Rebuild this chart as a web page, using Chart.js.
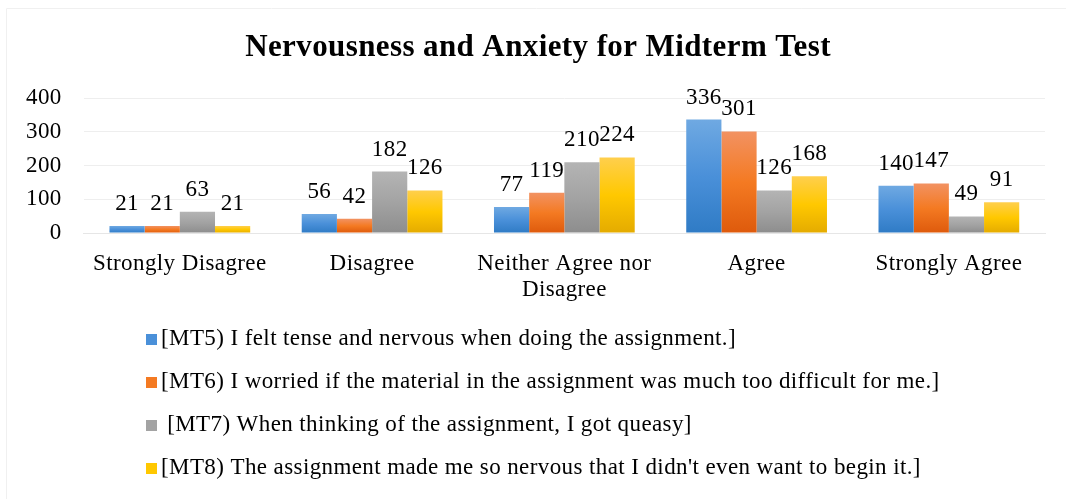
<!DOCTYPE html>
<html>
<head>
<meta charset="utf-8">
<script src="https://cdn.jsdelivr.net/npm/chart.js@4"></script>
<style>
    html, body { margin: 0; padding: 0; background: #fff; }
    #wrap { width: 1069px; height: 500px; position: relative; }
</style>
</head>
<body>
<div id="wrap"><canvas id="grafico"></canvas></div>
<script>
// Dados
const titulo = 'Nervousness and Anxiety for Midterm Test';
const categorias = ['Strongly Disagree', 'Disagree', ['Neither Agree nor', 'Disagree'], 'Agree', 'Strongly Agree'];
const rotulos = [
    '[MT5) I felt tense and nervous when doing the assignment.]',
    '[MT6) I worried if the material in the assignment was much too difficult for me.]',
    ' [MT7) When thinking of the assignment, I got queasy]',
    "[MT8) The assignment made me so nervous that I didn't even want to begin it.]"
];
const mt5 = [21, 56, 77, 336, 140];
const mt6 = [21, 42, 119, 301, 147];
const mt7 = [63, 182, 210, 126, 49];
const mt8 = [21, 126, 224, 168, 91];
const ticksY = [0, 100, 200, 300, 400];

// cores (topo, meio, base) no estilo do Excel
const cores = [
    ['#6fa9e2', '#4a90d9', '#2f7bc5'],
    ['#f29262', '#f47a22', '#de5a0c'],
    ['#b4b4b4', '#a3a3a3', '#8d8d8d'],
    ['#ffcf4d', '#ffc800', '#e4ab00']
];
const corSolida = ['#4a90d9', '#f47a22', '#a3a3a3', '#ffc800'];

const fonte = "'Liberation Serif', 'Times New Roman', serif";
const espacamento = '0.4px';

function gradiente(i) {
    return function (ctx) {
        const chart = ctx.chart;
        if (!chart.chartArea || ctx.parsed === undefined) return corSolida[i];
        const y = chart.scales.y;
        const topo = y.getPixelForValue(ctx.parsed.y);
        const base = y.getPixelForValue(0);
        if (!isFinite(topo) || topo === base) return corSolida[i];
        const g = chart.ctx.createLinearGradient(0, topo, 0, base);
        g.addColorStop(0, cores[i][0]);
        g.addColorStop(0.5, cores[i][1]);
        g.addColorStop(1, cores[i][2]);
        return g;
    };
}

// espaçamento entre letras (o original parece esticado)
const espacoLetras = {
    id: 'espacoLetras',
    beforeUpdate(chart) { chart.ctx.letterSpacing = espacamento; },
    beforeDraw(chart) { chart.ctx.letterSpacing = espacamento; }
};

// valores acima das barras
const rotuloValores = {
    id: 'rotuloValores',
    afterDatasetsDraw(chart) {
        const ctx = chart.ctx;
        ctx.save();
        ctx.font = '23px ' + fonte;
        ctx.fillStyle = '#000';
        ctx.textAlign = 'center';
        ctx.textBaseline = 'alphabetic';
        chart.data.datasets.forEach((ds, i) => {
            chart.getDatasetMeta(i).data.forEach((bar, j) => {
                ctx.fillText(ds.data[j], bar.x, bar.y - 16);
            });
        });
        ctx.restore();
    }
};

// título, legenda vertical alinhada à esquerda e borda
const legendaVertical = {
    id: 'legendaVertical',
    afterDraw(chart) {
        const ctx = chart.ctx;
        ctx.save();
        ctx.strokeStyle = '#f0f0f0';
        ctx.lineWidth = 1;
        ctx.beginPath();
        ctx.moveTo(6.5, 499);
        ctx.lineTo(6.5, 8.5);
        ctx.lineTo(1066, 8.5);
        ctx.stroke();

        ctx.fillStyle = '#000';
        ctx.font = 'bold 31px ' + fonte;
        ctx.textAlign = 'center';
        ctx.textBaseline = 'middle';
        ctx.fillText(titulo, 538, 48);

        ctx.font = '23px ' + fonte;
        ctx.textAlign = 'left';
        const linhas = [339, 382, 425, 468];
        chart.data.datasets.forEach((ds, i) => {
            const y = linhas[i];
            ctx.fillStyle = corSolida[i];
            ctx.fillRect(146, y - 5, 11, 11);
            ctx.fillStyle = '#000';
            ctx.fillText(ds.label, 161, y);
        });
        ctx.restore();
    }
};

new Chart(document.getElementById('grafico'), {
    type: 'bar',
    data: {
        labels: categorias,
        datasets: [mt5, mt6, mt7, mt8].map((d, i) => ({
            label: rotulos[i],
            data: d,
            backgroundColor: gradiente(i),
            borderWidth: 0,
            barPercentage: 1.0,
            categoryPercentage: 0.732
        }))
    },
    options: {
        responsive: true,
        maintainAspectRatio: false,
        animation: false,
        layout: {
            padding: { top: 98, left: 4, right: 24, bottom: 179 }
        },
        plugins: {
            legend: { display: false },
            tooltip: { enabled: false },
            title: { display: false }
        },
        scales: {
            x: {
                grid: { display: false, drawTicks: false },
                border: { display: true, color: '#e6e6e6' },
                ticks: {
                    color: '#000',
                    padding: 18,
                    maxRotation: 0,
                    font: { family: fonte, size: 23, lineHeight: 1.13 }
                }
            },
            y: {
                min: 0,
                max: 400,
                afterBuildTicks(axis) {
                    axis.ticks = ticksY.map(v => ({ value: v }));
                },
                grid: { color: '#eeeeee', drawTicks: false },
                border: { display: false },
                ticks: {
                    color: '#000',
                    padding: 22,
                    font: { family: fonte, size: 23 }
                }
            }
        }
    },
    plugins: [espacoLetras, rotuloValores, legendaVertical]
});
</script>
</body>
</html>
